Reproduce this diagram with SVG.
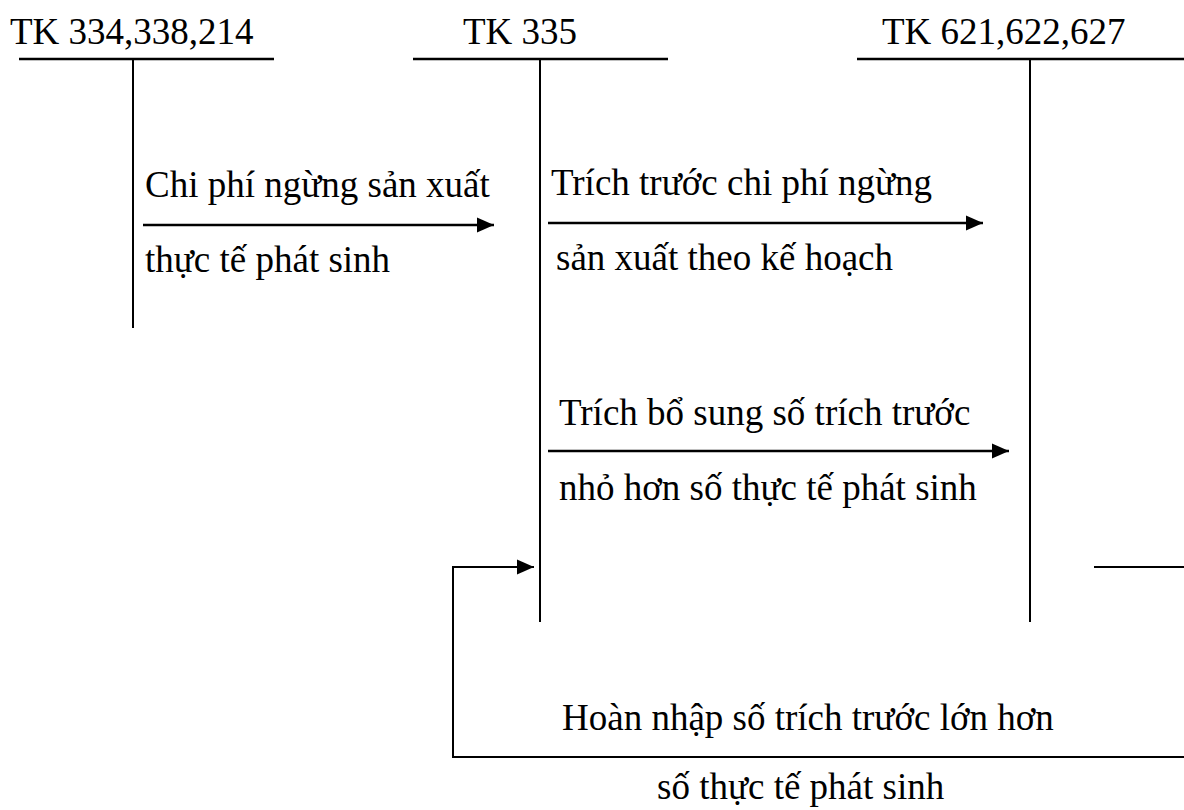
<svg xmlns="http://www.w3.org/2000/svg" width="1184" height="810" viewBox="0 0 1184 810">
<style>
text{font-family:"Liberation Serif","Times New Roman",serif;font-size:37px;fill:#000}
.ln{stroke:#000;stroke-width:2;fill:none}
.tl{stroke:#000;stroke-width:2.5;fill:none}
</style>
<defs>
<marker id="ah" markerUnits="userSpaceOnUse" markerWidth="18" markerHeight="18" viewBox="0 0 18 18" refX="17" refY="9" orient="auto">
<path d="M0,1.5 L17,9 L0,16.5 Z" fill="#000"/>
</marker>
</defs>
<rect width="1184" height="810" fill="#fff"/>
<g id="tk334">
<text x="10" y="44">TK 334,338,214</text>
<line class="tl" x1="19" y1="59" x2="274" y2="59"/>
<line class="ln" x1="133" y1="59" x2="133" y2="328"/>
</g>
<g id="tk335">
<text x="463" y="44">TK 335</text>
<line class="tl" x1="413" y1="59" x2="668" y2="59"/>
<line class="ln" x1="540" y1="59" x2="540" y2="622"/>
</g>
<g id="tk621">
<text x="882" y="44">TK 621,622,627</text>
<line class="tl" x1="857" y1="59" x2="1184" y2="59"/>
<line class="ln" x1="1030" y1="59" x2="1030" y2="622"/>
</g>
<g id="connectors">
<line class="tl" x1="143" y1="225" x2="494" y2="225" marker-end="url(#ah)"/>
<line class="tl" x1="548" y1="223" x2="983" y2="223" marker-end="url(#ah)"/>
<line class="tl" x1="548" y1="451" x2="1009" y2="451" marker-end="url(#ah)"/>
<polyline class="ln" points="1184,757 453,757 453,567 534,567" marker-end="url(#ah)"/>
<line class="ln" x1="1094" y1="567" x2="1184" y2="567"/>
</g>
<g id="labels">
<text x="145" y="197">Chi phí ngừng sản xuất</text>
<text x="145" y="272">thực tế phát sinh</text>
<text x="551" y="195">Trích trước chi phí ngừng</text>
<text x="556" y="270">sản xuất theo kế hoạch</text>
<text x="559" y="425">Trích bổ sung số trích trước</text>
<text x="559" y="500">nhỏ hơn số thực tế phát sinh</text>
<text x="562" y="730">Hoàn nhập số trích trước lớn hơn</text>
<text x="657" y="799">số thực tế phát sinh</text>
</g>
</svg>
